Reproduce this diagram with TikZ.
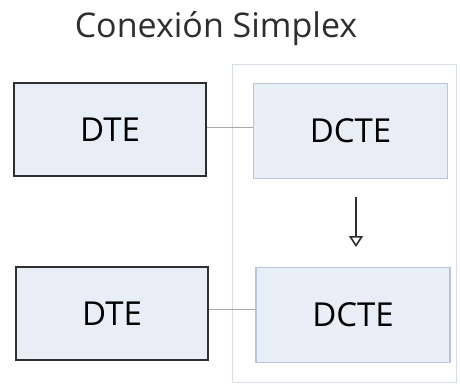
\documentclass[tikz,border=0pt]{standalone}
\usepackage{fontspec}
\setmainfont{Open Sans}
\usetikzlibrary{arrows.meta}
\definecolor{boxfill}{HTML}{E8EEF6}
\definecolor{paleedge}{HTML}{B9C5D6}
\definecolor{frameedge}{HTML}{D6DEEA}
\definecolor{linkgray}{HTML}{A8A8A8}
\definecolor{darkedge}{HTML}{2E2E2E}
\begin{document}
\begin{tikzpicture}[x=1pt,y=-1pt,
  dtebox/.style={draw=darkedge,line width=1.6pt,fill=boxfill,minimum width=192pt,minimum height=93pt,font=\fontsize{33}{36}\selectfont,inner sep=0pt},
  dctebox/.style={draw=paleedge,line width=1.2pt,fill=boxfill,minimum width=194pt,minimum height=95pt,font=\fontsize{33}{36}\selectfont,inner sep=0pt},
  link/.style={draw=linkgray,line width=1pt}]
\useasboundingbox (0,0) rectangle (460,385);
\node[text=darkedge] (title) at (216,29) {\fontsize{34}{38}\selectfont Conexión Simplex};
% frame around the DCTE pair
\draw[frameedge,line width=1pt] (232,65) rectangle (456,382);
\node[dtebox] (dte1) at (110,129.5) {DTE};
\node[dctebox] (dcte1) at (350.5,131) {DCTE};
\node[dtebox] (dte2) at (112,313.5) {DTE};
\node[dctebox] (dcte2) at (353,315) {DCTE};
\draw[link] (dte1.east |- 0,127) -- (dcte1.west |- 0,127);
\draw[link] (dte2.east |- 0,309) -- (dcte2.west |- 0,309);
\coordinate (arrtop) at (356,197);
\coordinate (arrtip) at (356,247);
\draw[darkedge,line width=1.8pt,-{Triangle[open,width=14pt,length=11pt,line width=1.6pt]}] (arrtop) -- (arrtip);
\end{tikzpicture}
\end{document}
